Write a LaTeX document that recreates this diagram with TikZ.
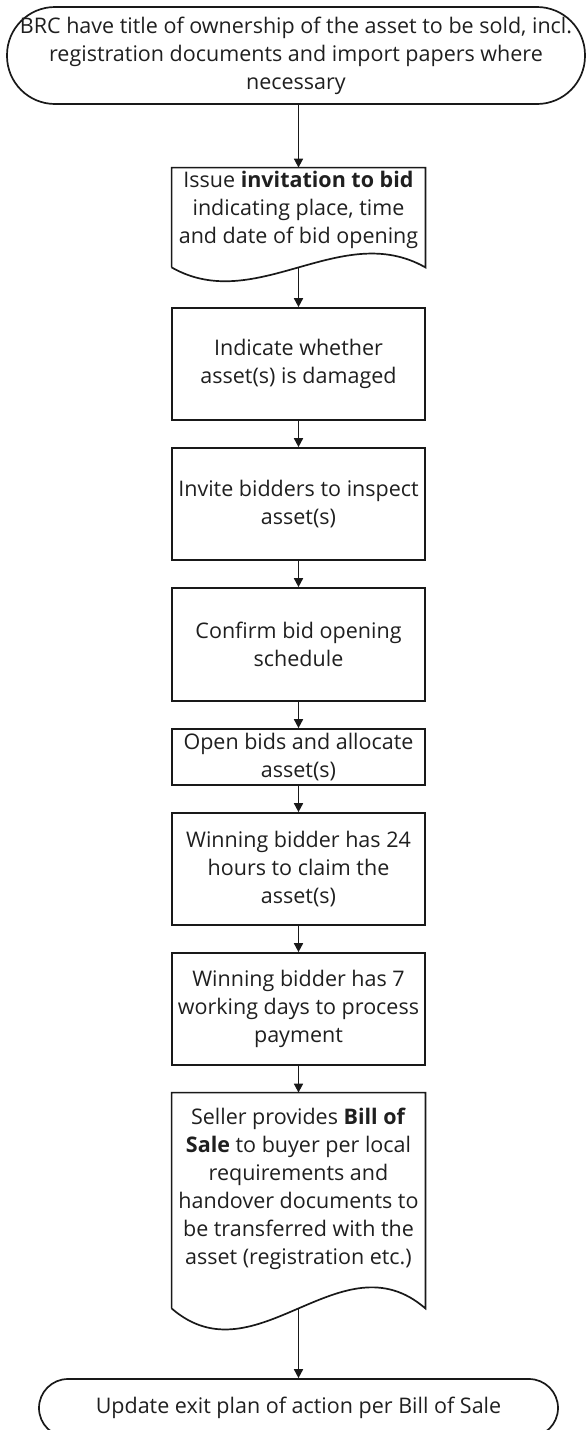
\documentclass[tikz,border=0pt]{standalone}
\usepackage{fontspec}
\setmainfont{Open Sans}
\usetikzlibrary{arrows.meta,calc}
\begin{document}
\begin{tikzpicture}[x=0.5pt,y=-0.5pt,
  every node/.style={font=\fontsize{10.75}{14}\selectfont, text=black!88, inner sep=0pt, align=center},
  stepbox/.style={draw=black!90, line width=0.85pt, minimum width=126.5pt},
  term/.style={draw=black!90, line width=0.85pt, rounded corners=#1},
  arr/.style={draw=black!90, line width=0.85pt, -{Triangle[length=4.5pt,width=4.5pt]}},
  docline/.style={draw=black!90, line width=0.85pt}]
\useasboundingbox (0,0) rectangle (586,1430);

\node[term=24pt, minimum width=289pt, minimum height=48.5pt] (t1) at (296,55.5)
  {BRC have title of ownership of the asset to be sold, incl.\\registration documents and import papers where\\necessary};

% document shape 1
\node[minimum width=126.5pt, minimum height=49.5pt] (b2) at (298.5,217.5) {};
\draw[docline] (b2.south west) -- (b2.north west) -- (b2.north east) -- (b2.south east)
  .. controls ($(b2.south east)+(-84.3,-48)$) and ($(b2.south west)+(84.3,48)$) .. (b2.south west);
\node (b2t) at (298.5,210) {Issue \textbf{invitation to bid}\\indicating place, time\\and date of bid opening};

\node[stepbox, minimum height=56pt] (b3) at (298.5,364) {Indicate whether\\asset(s) is damaged};
\node[stepbox, minimum height=56pt] (b4) at (298.5,504) {Invite bidders to inspect\\asset(s)};
\node[stepbox, minimum height=56.5pt] (b5) at (298.5,644.5) {Confirm bid opening\\schedule};
\node[stepbox, minimum height=28pt] (b6) at (298.5,757) {Open bids and allocate\\asset(s)};
\node[stepbox, minimum height=56pt] (b7) at (298.5,869) {Winning bidder has 24\\hours to claim the\\asset(s)};
\node[stepbox, minimum height=56pt] (b8) at (298.5,1009) {Winning bidder has 7\\working days to process\\payment};

% document shape 2
\node[minimum width=126.5pt, minimum height=107.5pt] (b9) at (298.5,1200.5) {};
\draw[docline] (b9.south west) -- (b9.north west) -- (b9.north east) -- (b9.south east)
  .. controls ($(b9.south east)+(-84.3,-73)$) and ($(b9.south west)+(84.3,73)$) .. (b9.south west);
\node (b9t) at (298.5,1189) {Seller provides \textbf{Bill of}\\\textbf{Sale} to buyer per local\\requirements and\\handover documents to\\be transferred with the\\asset (registration etc.)};

\node[term=14.5pt, minimum width=259.5pt, minimum height=29pt] (t2) at (298.5,1408)
  {Update exit plan of action per Bill of Sale};

\draw[arr] (b2.north |- t1.south) -- (b2.north);
\draw[arr] (b2.south) -- (b3.north);
\draw[arr] (b3.south) -- (b4.north);
\draw[arr] (b4.south) -- (b5.north);
\draw[arr] (b5.south) -- (b6.north);
\draw[arr] (b6.south) -- (b7.north);
\draw[arr] (b7.south) -- (b8.north);
\draw[arr] (b8.south) -- (b9.north);
\draw[arr] (b9.south) -- (t2.north);
\end{tikzpicture}
\end{document}
